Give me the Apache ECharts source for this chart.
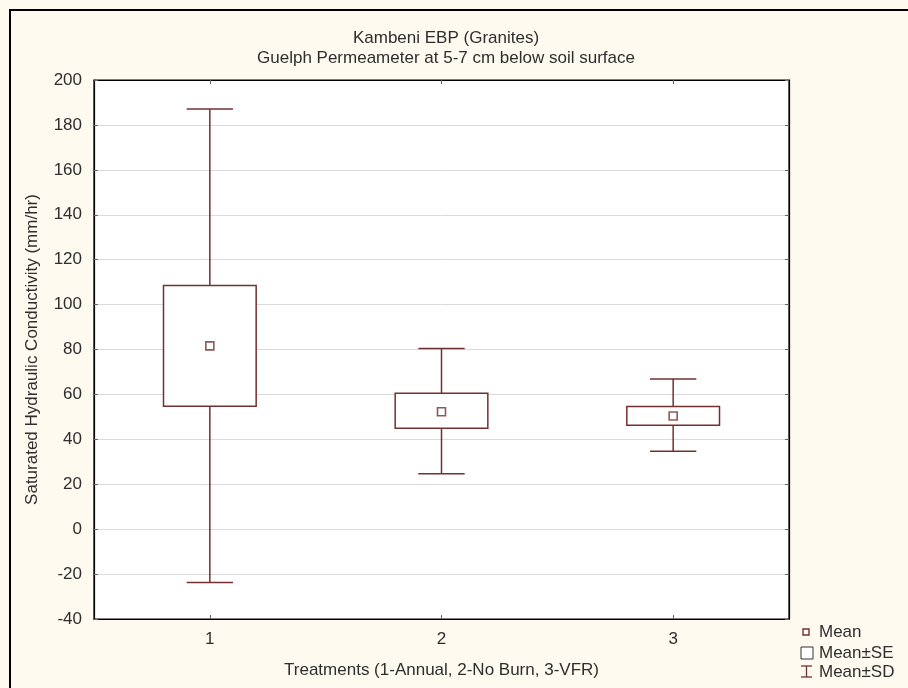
<!DOCTYPE html>
<html>
<head>
<meta charset="utf-8">
<script src="https://cdn.jsdelivr.net/npm/echarts@6/dist/echarts.min.js"></script>
<style>
html,body{margin:0;padding:0;background:#fefaef;}
#chart{width:908px;height:688px;}
</style>
</head>
<body>
<div id="chart"></div>
<script>
// ---- data ----
var categories = ['1', '2', '3'];
var meanValues = [81.6, 52.3, 50.4];
var seLow  = [54.7, 44.9, 46.3];
var seHigh = [108.5, 60.5, 54.6];
var sdLow  = [-23.8, 24.7, 34.7];
var sdHigh = [187.1, 80.5, 66.9];
var yTicks = { min: -40, max: 200, interval: 20 };
var titleLines = ['Kambeni EBP (Granites)', 'Guelph Permeameter at 5-7 cm below soil surface'];
var xTitle = 'Treatments (1-Annual, 2-No Burn, 3-VFR)';
var yTitle = 'Saturated Hydraulic Conductivity (mm/hr)';
var legendNames = ['Mean', 'Mean\u00B1SE', 'Mean\u00B1SD'];

var LINE = '#733030';
var TXT = '#2e2e2e';
var FONT = 'Liberation Sans, Arial, sans-serif';

var sdData = categories.map(function (c, i) { return [i, sdLow[i], sdHigh[i]]; });
var seData = categories.map(function (c, i) { return [i, seLow[i], seHigh[i]]; });
var meanData = categories.map(function (c, i) { return [i, meanValues[i]]; });

var chart = echarts.init(document.getElementById('chart'), null, { renderer: 'canvas' });

var option = {
  backgroundColor: '#fefaef',
  animation: false,
  textStyle: { fontFamily: FONT },
  title: {
    text: titleLines.join('\n'),
    left: 441, top: 23, textAlign: 'center',
    textStyle: { fontSize: 17, fontWeight: 'normal', color: TXT, lineHeight: 20, fontFamily: FONT }
  },
  grid: {
    left: 94, top: 80, width: 695, height: 539,
    show: true, backgroundColor: '#ffffff', borderColor: '#000', borderWidth: 1.2
  },
  xAxis: [{
    type: 'category', data: categories, position: 'bottom',
    axisLine: { show: true, onZero: false, lineStyle: { color: '#000', width: 1.2 } },
    axisTick: { show: true, inside: true, alignWithLabel: true, length: 4, lineStyle: { color: '#666' } },
    axisLabel: { fontSize: 17, color: TXT, margin: 12, fontFamily: FONT },
    name: xTitle, nameLocation: 'middle', nameGap: 43,
    nameTextStyle: { fontSize: 17, color: TXT, fontFamily: FONT },
    splitLine: { show: false }
  }, {
    type: 'category', data: categories, position: 'top',
    axisLine: { show: true, onZero: false, lineStyle: { color: '#000', width: 1.2 } },
    axisTick: { show: true, inside: true, alignWithLabel: true, length: 4, lineStyle: { color: '#666' } },
    axisLabel: { show: false }, splitLine: { show: false }
  }],
  yAxis: [{
    type: 'value', min: yTicks.min, max: yTicks.max, interval: yTicks.interval, position: 'left',
    axisLine: { show: true, onZero: false, lineStyle: { color: '#000', width: 1.2 } },
    axisTick: { show: true, inside: true, length: 4, lineStyle: { color: '#666' } },
    axisLabel: { fontSize: 17, color: TXT, margin: 12, fontFamily: FONT },
    splitLine: { show: true, lineStyle: { color: '#dadada', width: 1 } },
    name: yTitle, nameLocation: 'middle', nameGap: 53,
    nameTextStyle: { fontSize: 17, color: TXT, fontFamily: FONT }
  }, {
    type: 'value', min: yTicks.min, max: yTicks.max, interval: yTicks.interval, position: 'right',
    axisLine: { show: true, onZero: false, lineStyle: { color: '#000', width: 1.2 } },
    axisTick: { show: true, inside: true, length: 4, lineStyle: { color: '#666' } },
    axisLabel: { show: false }, splitLine: { show: false }
  }],
  graphic: [
    { type: 'rect', z: -10, silent: true, shape: { x: 10, y: 10, width: 1200, height: 1200 },
      style: { fill: null, stroke: '#000', lineWidth: 2 } },
    // legend
    { type: 'rect', shape: { x: 803, y: 629, width: 6, height: 6 },
      style: { fill: '#fff', stroke: LINE, lineWidth: 1.4 } },
    { type: 'text', style: { x: 819, y: 632, text: legendNames[0], fill: TXT, fontSize: 17, fontFamily: FONT, verticalAlign: 'middle' } },
    { type: 'rect', shape: { x: 801, y: 647, width: 12, height: 12 },
      style: { fill: '#fff', stroke: '#333', lineWidth: 1 } },
    { type: 'text', style: { x: 819, y: 653, text: legendNames[1], fill: TXT, fontSize: 17, fontFamily: FONT, verticalAlign: 'middle' } },
    { type: 'polyline', shape: { points: [[801, 666], [812, 666]] }, style: { stroke: LINE, lineWidth: 1.3 } },
    { type: 'polyline', shape: { points: [[806.5, 666], [806.5, 677]] }, style: { stroke: LINE, lineWidth: 1.3 } },
    { type: 'polyline', shape: { points: [[801, 677], [812, 677]] }, style: { stroke: LINE, lineWidth: 1.3 } },
    { type: 'text', style: { x: 819, y: 672, text: legendNames[2], fill: TXT, fontSize: 17, fontFamily: FONT, verticalAlign: 'middle' } }
  ],
  series: [
    {
      name: legendNames[2], type: 'custom', z: 2,
      data: sdData,
      encode: { x: 0, y: [1, 2] },
      renderItem: function (params, api) {
        var i = api.value(0);
        var lo = api.coord([i, api.value(1)]);
        var hi = api.coord([i, api.value(2)]);
        var band = api.size([1, 0])[0];
        var cap = band * 0.1;
        var st = { stroke: LINE, lineWidth: 1.5, fill: null };
        return {
          type: 'group', children: [
            { type: 'line', shape: { x1: lo[0], y1: lo[1], x2: hi[0], y2: hi[1] }, style: st },
            { type: 'line', shape: { x1: hi[0] - cap, y1: hi[1], x2: hi[0] + cap, y2: hi[1] }, style: st },
            { type: 'line', shape: { x1: lo[0] - cap, y1: lo[1], x2: lo[0] + cap, y2: lo[1] }, style: st }
          ]
        };
      }
    },
    {
      name: legendNames[1], type: 'custom', z: 3,
      data: seData,
      encode: { x: 0, y: [1, 2] },
      renderItem: function (params, api) {
        var i = api.value(0);
        var lo = api.coord([i, api.value(1)]);
        var hi = api.coord([i, api.value(2)]);
        var band = api.size([1, 0])[0];
        var hw = band * 0.2;
        return {
          type: 'rect',
          shape: { x: lo[0] - hw, y: hi[1], width: hw * 2, height: lo[1] - hi[1] },
          style: { fill: '#ffffff', stroke: LINE, lineWidth: 1.5 }
        };
      }
    },
    {
      name: legendNames[0], type: 'scatter', z: 4,
      data: meanData,
      symbol: 'rect', symbolSize: 8,
      itemStyle: { color: '#ffffff', borderColor: LINE, borderWidth: 1.6 }
    }
  ]
};
chart.setOption(option);
</script>
</body>
</html>
